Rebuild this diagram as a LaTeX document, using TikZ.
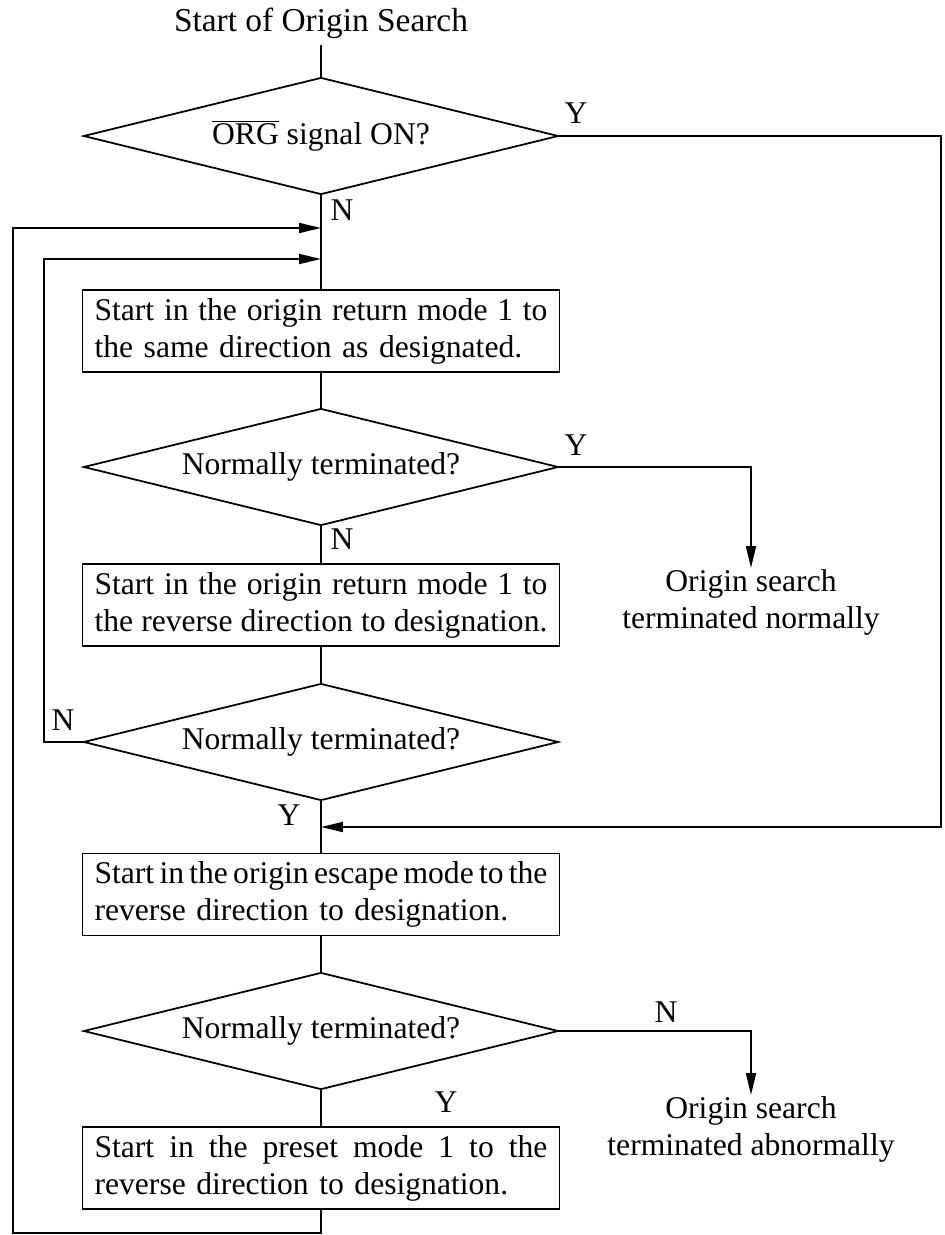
\documentclass[tikz,border=0pt]{standalone}
\usepackage{fontspec}
\setmainfont{Liberation Serif}
\usetikzlibrary{shapes.geometric,arrows.meta}
\begin{document}
\begin{tikzpicture}[x=0.02cm,y=-0.02cm,
  every node/.style={font=\fontsize{18}{21}\selectfont},
  flow/.style={line width=1pt},
  arr/.style={flow,-{Triangle[length=0.44cm,width=0.2cm]}},
  decision/.style={draw,line width=1pt,shape=diamond,aspect=4.06,inner sep=0pt,
    minimum width=9.5cm,minimum height=2.34cm},
  stepbox/.style={draw,line width=1pt,rectangle,minimum height=1.64cm,
    text width=9.06cm,inner xsep=0.24cm,inner ysep=0pt,align=left},
  endtext/.style={align=center,inner sep=0.5pt,anchor=north},
  lab/.style={inner sep=0pt}
]
\useasboundingbox (0,0) rectangle (945,1235);

% full-width (justified) line inside a step box
\newcommand{\fullline}[1]{{\spaceskip=0.1em plus 1em\makebox[\linewidth][s]{#1}}}

% start label
\node[font=\fontsize{19}{22}\selectfont] (title) at (321,23) {Start of Origin Search};

% decisions and process steps along the main axis
\node[decision] (d1) at (321,136) {$\overline{\hbox{ORG}}$ signal ON?};
\node[stepbox] (b1) at (321,331)
  {\fullline{Start in the origin return mode 1 to}\\the same direction as designated.};
\node[decision] (d2) at (321,467) {Normally terminated?};
\node[stepbox] (b2) at (321,605)
  {\fullline{Start in the origin return mode 1 to}\\\fullline{the reverse direction to designation.}};
\node[decision] (d3) at (321,742) {Normally terminated?};
\node[stepbox] (b3) at (321,894.5)
  {\fullline{Start in the origin escape mode to the}\\reverse direction to designation.};
\node[decision] (d4) at (321,1031) {Normally terminated?};
\node[stepbox] (b4) at (321,1168)
  {\fullline{Start in the preset mode 1 to the}\\reverse direction to designation.};

% end states
\node[endtext] (t1) at (751,568) {Origin search\\terminated normally};
\node[endtext] (t2) at (751,1095) {Origin search\\terminated abnormally};

% branch labels
\node[lab] (y1) at (576,113) {Y};
\node[lab] (n1) at (342,210) {N};
\node[lab] (y2) at (576,445) {Y};
\node[lab] (n2) at (342,539) {N};
\node[lab] (n3) at (63,720) {N};
\node[lab] (y3) at (289,815) {Y};
\node[lab] (n4) at (666,1012) {N};
\node[lab] (y4) at (446,1102) {Y};

% junction and corner points
\coordinate (j1) at (321,228);
\coordinate (j2) at (321,259);
\coordinate (j3) at (321,827);
\coordinate (rc) at (941,827);
\coordinate (l1) at (13,228);
\coordinate (l2) at (44,259);
\coordinate (bot) at (321,1233);

% main flow
\draw[flow] (title.south) -- (d1.north);
\draw[flow] (d1.south) -- (b1.north);
\draw[flow] (b1.south) -- (d2.north);
\draw[flow] (d2.south) -- (b2.north);
\draw[flow] (b2.south) -- (d3.north);
\draw[flow] (d3.south) -- (b3.north);
\draw[flow] (b3.south) -- (d4.north);
\draw[flow] (d4.south) -- (b4.north);

% branches
\draw[arr] (d1.east) -| (rc) -- (j3);
\draw[arr] (d2.east) -| (t1.north);
\draw[arr] (d3.west) -| (l2) -- (j2);
\draw[arr] (d4.east) -| (t2.north);
\draw[arr] (b4.south) -- (bot) -| (l1) -- (j1);
\end{tikzpicture}
\end{document}
